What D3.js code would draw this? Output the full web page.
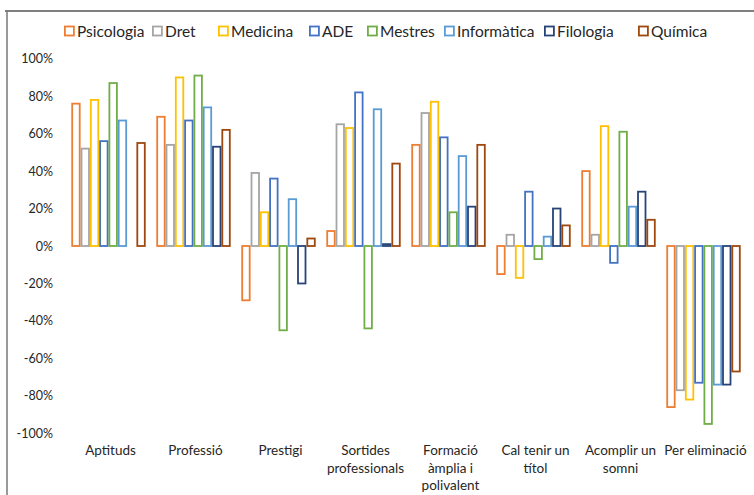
<!DOCTYPE html>
<html>
<head>
<meta charset="utf-8">
<script src="https://cdn.jsdelivr.net/npm/d3@7"></script>
<style>
  body { margin: 0; background: #fff; }
  svg { font-family: Lato, "Liberation Sans", sans-serif; }
</style>
</head>
<body>
<svg id="chart" width="754" height="495"></svg>
<script>
// categories (x axis), one line per label row
const categories = ["Aptituds", "Professió", "Prestigi", "Sortides professionals",
  "Formació àmplia i polivalent", "Cal tenir un títol", "Acomplir un somni", "Per eliminació"]
const categoryLines = [["Aptituds"], ["Professió"], ["Prestigi"], ["Sortides", "professionals"],
  ["Formació", "àmplia i", "polivalent"], ["Cal tenir un", "títol"], ["Acomplir un", "somni"], ["Per eliminació"]]

const seriesNames = ["Psicologia", "Dret", "Medicina", "ADE", "Mestres", "Informàtica", "Filologia", "Química"]
const seriesColors = ["#ED7D31", "#A5A5A5", "#FFC000", "#4472C4", "#70AD47", "#5B9BD5", "#264478", "#9E480E"]

// values in %, one array per series, same order as categories
const psicologia = [76, 69, -29, 8, 54, -15, 40, -86]
const dret = [52, 54, 39, 65, 71, 6, 6, -77]
const medicina = [78, 90, 18, 63, 77, -17, 64, -82]
const ade = [56, 67, 36, 82, 58, 29, -9, -73]
const mestres = [87, 91, -45, -44, 18, -7, 61, -95]
const informatica = [67, 74, 25, 73, 48, 5, 21, -74]
const filologia = [0, 53, -20, 1, 21, 20, 29, -74]
const quimica = [55, 62, 4, 44, 54, 11, 14, -67]

const seriesValues = [psicologia, dret, medicina, ade, mestres, informatica, filologia, quimica]

const yTicks = [-100, -80, -60, -40, -20, 0, 20, 40, 60, 80, 100]

const svg = d3.select("#chart")

// frame lines
svg.append("line").attr("x1", 5).attr("x2", 754).attr("y1", 11).attr("y2", 11)
  .attr("stroke", "#555").attr("stroke-width", 1.5)
svg.append("line").attr("x1", 7).attr("x2", 7).attr("y1", 11).attr("y2", 495)
  .attr("stroke", "#777").attr("stroke-width", 1.5)

// scales
const x0 = d3.scaleBand().domain(categories).range([66, 746])
const x1 = d3.scaleBand().domain(seriesNames).range([5.3, x0.bandwidth() - 5.3])
const yScale = d3.scaleLinear().domain([-100, 100]).range([433.3, 58.7])

// y axis
const yAxis = d3.axisLeft(yScale)
  .tickValues(yTicks)
  .tickSize(0)
  .tickPadding(0)
  .tickFormat(d => d + "%")

const gy = svg.append("g").attr("transform", "translate(53,0)").call(yAxis)
gy.select(".domain").remove()
gy.selectAll("text")
  .attr("font-family", "Lato, 'Liberation Sans', sans-serif")
  .attr("font-size", 12.5)
  .attr("fill", "#262626")

// bars
const groups = svg.selectAll(".cat_group")
  .data(categories)
  .enter()
  .append("g")
  .attr("class", "cat_group")
  .attr("transform", d => `translate(${x0(d)},0)`)

groups.each(function (cat, ci) {
  const group = d3.select(this)
  const rows = seriesNames.map((name, si) => ({ name, color: seriesColors[si], value: seriesValues[si][ci] }))
    .filter(d => d.value !== 0)

  group.selectAll(".bar")
    .data(rows)
    .enter()
    .append("rect")
    .attr("class", "bar")
    .attr("x", d => x1(d.name) + 0.9)
    .attr("width", x1.bandwidth() - 1.8)
    .attr("y", d => yScale(Math.max(0, d.value)))
    .attr("height", d => Math.abs(yScale(d.value) - yScale(0)))
    .attr("fill", "#fff")
    .attr("stroke", d => d.color)
    .attr("stroke-width", 1.8)
})

// category labels
const labels = svg.selectAll(".x_label")
  .data(categories)
  .enter()
  .append("text")
  .attr("class", "x_label")
  .attr("text-anchor", "middle")
  .attr("font-size", 13.5)
  .attr("fill", "#262626")
  .attr("x", d => x0(d) + x0.bandwidth() / 2 + 2)
  .attr("y", 455)

labels.selectAll("tspan")
  .data((d, i) => categoryLines[i])
  .enter()
  .append("tspan")
  .attr("x", function () { return d3.select(this.parentNode).attr("x") })
  .attr("dy", (d, i) => i === 0 ? 0 : 17.5)
  .text(d => d)

// legend
const legendX = [64, 152, 218, 309, 367, 444, 544, 638]
const legend = svg.selectAll(".legend_item")
  .data(seriesNames)
  .enter()
  .append("g")
  .attr("class", "legend_item")
  .attr("transform", (d, i) => `translate(${legendX[i]},31)`)

legend.append("rect")
  .attr("x", 0.9)
  .attr("y", -4.5)
  .attr("width", 9)
  .attr("height", 9)
  .attr("fill", "#fff")
  .attr("stroke", (d, i) => seriesColors[i])
  .attr("stroke-width", 1.8)

legend.append("text")
  .attr("x", 13)
  .attr("y", 5.5)
  .attr("font-size", 15.5)
  .attr("fill", "#262626")
  .text(d => d)
</script>
</body>
</html>
